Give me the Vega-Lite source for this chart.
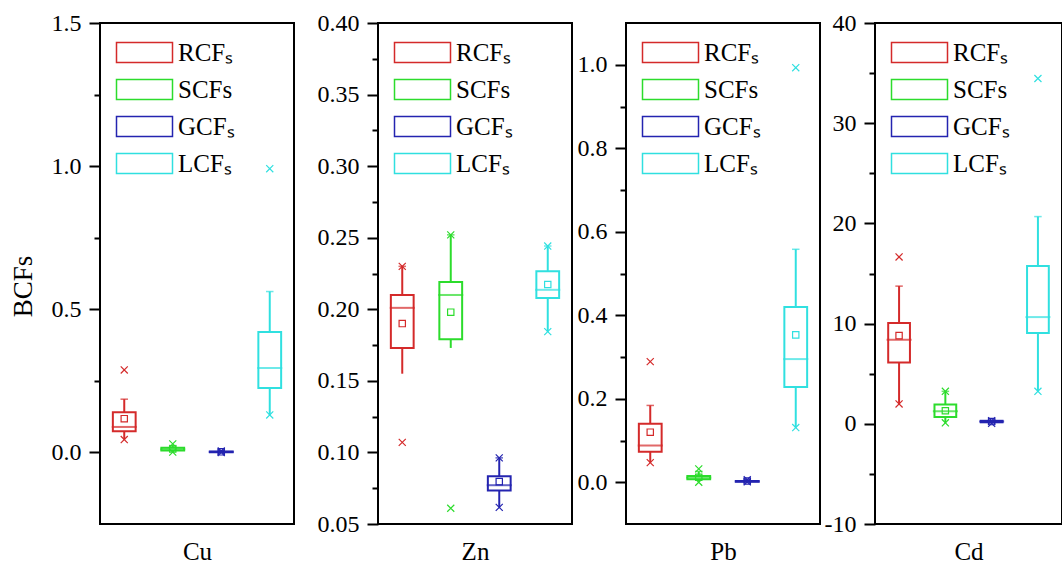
{
  "$schema": "https://vega.github.io/schema/vega-lite/v6.json",
  "padding": {"left": 8, "top": 10, "right": 0, "bottom": 0},
  "config": {
    "view": {"stroke": "#000000", "strokeWidth": 2},
    "font": "Liberation Serif",
    "axis": {"labelFont": "Liberation Serif", "titleFont": "Liberation Serif", "titleFontWeight": "normal", "labelColor": "#000000", "titleColor": "#000000", "tickColor": "#000000", "grid": false, "domain": false},
    "legend": {"labelFont": "Liberation Serif", "labelColor": "#000000"}
  },
  "datasets": {
    "stats": [
      {"metal": "Cu", "series": "RCFs", "wlo": 0.045, "q1": 0.074, "median": 0.089, "q3": 0.140, "whi": 0.186, "mean": 0.118, "min": 0.045, "max": 0.288},
      {"metal": "Cu", "series": "SCFs", "wlo": 0.003, "q1": 0.007, "median": 0.011, "q3": 0.016, "whi": 0.024, "mean": 0.012, "min": 0.001, "max": 0.030},
      {"metal": "Cu", "series": "GCFs", "wlo": 0.0, "q1": 0.001, "median": 0.002, "q3": 0.003, "whi": 0.005, "mean": 0.002, "min": 0.0, "max": 0.005},
      {"metal": "Cu", "series": "LCFs", "wlo": 0.131, "q1": 0.225, "median": 0.295, "q3": 0.421, "whi": 0.562, "mean": null, "min": 0.131, "max": 0.991},
      {"metal": "Zn", "series": "RCFs", "wlo": 0.155, "q1": 0.173, "median": 0.201, "q3": 0.210, "whi": 0.230, "mean": 0.190, "min": 0.107, "max": 0.230},
      {"metal": "Zn", "series": "SCFs", "wlo": 0.173, "q1": 0.179, "median": 0.210, "q3": 0.219, "whi": 0.252, "mean": 0.198, "min": 0.061, "max": 0.252},
      {"metal": "Zn", "series": "GCFs", "wlo": 0.0616, "q1": 0.0734, "median": 0.0771, "q3": 0.0834, "whi": 0.0962, "mean": 0.0796, "min": 0.0616, "max": 0.0962},
      {"metal": "Zn", "series": "LCFs", "wlo": 0.1844, "q1": 0.2078, "median": 0.2136, "q3": 0.2266, "whi": 0.2442, "mean": 0.2173, "min": 0.1844, "max": 0.2442},
      {"metal": "Pb", "series": "RCFs", "wlo": 0.047, "q1": 0.073, "median": 0.088, "q3": 0.140, "whi": 0.184, "mean": 0.120, "min": 0.047, "max": 0.289},
      {"metal": "Pb", "series": "SCFs", "wlo": 0.002, "q1": 0.007, "median": 0.011, "q3": 0.015, "whi": 0.026, "mean": 0.012, "min": 0.0, "max": 0.032},
      {"metal": "Pb", "series": "GCFs", "wlo": 0.0, "q1": 0.001, "median": 0.002, "q3": 0.003, "whi": 0.006, "mean": 0.003, "min": 0.001, "max": 0.006},
      {"metal": "Pb", "series": "LCFs", "wlo": 0.131, "q1": 0.228, "median": 0.295, "q3": 0.420, "whi": 0.558, "mean": 0.353, "min": 0.131, "max": 0.993},
      {"metal": "Cd", "series": "RCFs", "wlo": 1.98, "q1": 6.12, "median": 8.38, "q3": 10.07, "whi": 13.74, "mean": 8.8, "min": 1.98, "max": 16.65},
      {"metal": "Cd", "series": "SCFs", "wlo": 0.1, "q1": 0.67, "median": 1.25, "q3": 1.93, "whi": 3.24, "mean": 1.3, "min": 0.1, "max": 3.24},
      {"metal": "Cd", "series": "GCFs", "wlo": 0.0, "q1": 0.15, "median": 0.22, "q3": 0.30, "whi": 0.35, "mean": 0.22, "min": 0.05, "max": 0.3},
      {"metal": "Cd", "series": "LCFs", "wlo": 3.24, "q1": 9.06, "median": 10.65, "q3": 15.76, "whi": 20.68, "mean": null, "min": 3.24, "max": 34.46}
    ]
  },
  "resolve": {"scale": {"color": "independent", "y": "independent"}, "legend": {"color": "independent"}},
  "spacing": 21,
  "hconcat": [
    {
      "data": {"name": "stats"},
      "width": 194, "height": 501,
      "transform": [{"filter": "datum.metal === 'Cu'"}],
      "encoding": {
        "x": {"field": "series", "type": "nominal", "sort": ["RCFs", "SCFs", "GCFs", "LCFs"], "scale": {"paddingInner": 0, "paddingOuter": 0}, "axis": {"title": "Cu", "labels": false, "ticks": false, "domain": false, "titleFontSize": 25, "titlePadding": 15}},
        "color": {"field": "series", "type": "nominal", "scale": {"domain": ["RCFs", "SCFs", "GCFs", "LCFs"], "range": ["#d42a2a", "#2cdc2c", "#2424b0", "#30e0e0"]},
          "legend": {"title": null, "orient": "top-left", "offset": 17, "padding": 0, "symbolType": "M-1.3,-1H4.3V1H-1.3Z", "symbolSize": 400, "symbolStrokeWidth": 1.5, "symbolFillColor": "transparent", "labelFontSize": 25, "labelOffset": 36, "rowPadding": 10, "labelExpr": "datum.label == 'SCFs' ? 'SCFs' : slice(datum.label, 0, 3) + 'ₛ'"}}
      },
      "resolve": {"axis": {"y": "independent"}},
      "layer": [
        {"mark": {"type": "rule", "strokeWidth": 2}, "encoding": {"y": {"field": "wlo", "type": "quantitative", "scale": {"domain": [-0.25, 1.5], "nice": false, "zero": false}, "axis": {"values": [0, 0.5, 1.0, 1.5], "format": ".1f", "title": "BCFs", "titleFontSize": 27, "titlePadding": 14, "titleY": 263, "orient": "left", "tickSize": 11, "tickWidth": 2, "labelPadding": 8, "labelFontSize": 24}}, "y2": {"field": "q1"}}},
        {"mark": {"type": "rule", "strokeWidth": 2}, "encoding": {"y": {"field": "q3", "type": "quantitative", "scale": {"domain": [-0.25, 1.5], "nice": false, "zero": false}, "axis": {"values": [0.25, 0.75, 1.25], "labels": false, "title": null, "orient": "left", "tickSize": 6, "tickWidth": 2}}, "y2": {"field": "whi"}}},
        {"mark": {"type": "bar", "filled": false, "strokeWidth": 2, "width": {"band": 0.47}}, "encoding": {"y": {"field": "q1", "type": "quantitative", "scale": {"domain": [-0.25, 1.5], "nice": false, "zero": false}, "axis": null}, "y2": {"field": "q3"}}},
        {"mark": {"type": "tick", "filled": false, "size": 23, "thickness": 0.01, "strokeWidth": 2}, "encoding": {"y": {"field": "median", "type": "quantitative", "scale": {"domain": [-0.25, 1.5], "nice": false, "zero": false}, "axis": null}}},
        {"mark": {"type": "tick", "filled": false, "size": 6, "thickness": 0.01, "strokeWidth": 1.5}, "encoding": {"y": {"field": "whi", "type": "quantitative", "scale": {"domain": [-0.25, 1.5], "nice": false, "zero": false}, "axis": null}}},
        {"mark": {"type": "point", "shape": "square", "filled": false, "size": 40, "strokeWidth": 1.2, "opacity": 1}, "encoding": {"y": {"field": "mean", "type": "quantitative", "scale": {"domain": [-0.25, 1.5], "nice": false, "zero": false}, "axis": null}}},
        {"mark": {"type": "point", "shape": "M-1,-1L1,1M1,-1L-1,1", "filled": false, "size": 50, "strokeWidth": 1.2, "opacity": 1}, "encoding": {"y": {"field": "max", "type": "quantitative", "scale": {"domain": [-0.25, 1.5], "nice": false, "zero": false}, "axis": null}}},
        {"mark": {"type": "point", "shape": "M-1,-1L1,1M1,-1L-1,1", "filled": false, "size": 50, "strokeWidth": 1.2, "opacity": 1}, "encoding": {"y": {"field": "min", "type": "quantitative", "scale": {"domain": [-0.25, 1.5], "nice": false, "zero": false}, "axis": null}}}
      ]
    },
    {
      "resolve": {"scale": {"color": "independent", "y": "independent"}, "legend": {"color": "independent"}},
      "spacing": 3,
      "hconcat": [
        {
          "data": {"name": "stats"},
          "width": 194, "height": 501,
          "transform": [{"filter": "datum.metal === 'Zn'"}],
          "encoding": {
            "x": {"field": "series", "type": "nominal", "sort": ["RCFs", "SCFs", "GCFs", "LCFs"], "scale": {"paddingInner": 0, "paddingOuter": 0}, "axis": {"title": "Zn", "labels": false, "ticks": false, "domain": false, "titleFontSize": 25, "titlePadding": 15}},
            "color": {"field": "series", "type": "nominal", "scale": {"domain": ["RCFs", "SCFs", "GCFs", "LCFs"], "range": ["#d42a2a", "#2cdc2c", "#2424b0", "#30e0e0"]},
              "legend": {"title": null, "orient": "top-left", "offset": 17, "padding": 0, "symbolType": "M-1.3,-1H4.3V1H-1.3Z", "symbolSize": 400, "symbolStrokeWidth": 1.5, "symbolFillColor": "transparent", "labelFontSize": 25, "labelOffset": 36, "rowPadding": 10, "labelExpr": "datum.label == 'SCFs' ? 'SCFs' : slice(datum.label, 0, 3) + 'ₛ'"}}
          },
          "resolve": {"axis": {"y": "independent"}},
          "layer": [
            {"mark": {"type": "rule", "strokeWidth": 2}, "encoding": {"y": {"field": "wlo", "type": "quantitative", "scale": {"domain": [0.05, 0.40], "nice": false, "zero": false}, "axis": {"values": [0.05, 0.10, 0.15, 0.20, 0.25, 0.30, 0.35, 0.40], "format": ".2f", "title": null, "orient": "left", "tickSize": 11, "tickWidth": 2, "labelPadding": 8, "labelFontSize": 24}}, "y2": {"field": "q1"}}},
            {"mark": {"type": "rule", "strokeWidth": 2}, "encoding": {"y": {"field": "q3", "type": "quantitative", "scale": {"domain": [0.05, 0.40], "nice": false, "zero": false}, "axis": {"values": [0.075, 0.125, 0.175, 0.225, 0.275, 0.325, 0.375], "labels": false, "title": null, "orient": "left", "tickSize": 6, "tickWidth": 2}}, "y2": {"field": "whi"}}},
            {"mark": {"type": "bar", "filled": false, "strokeWidth": 2, "width": {"band": 0.47}}, "encoding": {"y": {"field": "q1", "type": "quantitative", "scale": {"domain": [0.05, 0.40], "nice": false, "zero": false}, "axis": null}, "y2": {"field": "q3"}}},
            {"mark": {"type": "tick", "filled": false, "size": 23, "thickness": 0.01, "strokeWidth": 2}, "encoding": {"y": {"field": "median", "type": "quantitative", "scale": {"domain": [0.05, 0.40], "nice": false, "zero": false}, "axis": null}}},
            {"mark": {"type": "tick", "filled": false, "size": 6, "thickness": 0.01, "strokeWidth": 1.5}, "encoding": {"y": {"field": "whi", "type": "quantitative", "scale": {"domain": [0.05, 0.40], "nice": false, "zero": false}, "axis": null}}},
            {"mark": {"type": "point", "shape": "square", "filled": false, "size": 40, "strokeWidth": 1.2, "opacity": 1}, "encoding": {"y": {"field": "mean", "type": "quantitative", "scale": {"domain": [0.05, 0.40], "nice": false, "zero": false}, "axis": null}}},
            {"mark": {"type": "point", "shape": "M-1,-1L1,1M1,-1L-1,1", "filled": false, "size": 50, "strokeWidth": 1.2, "opacity": 1}, "encoding": {"y": {"field": "max", "type": "quantitative", "scale": {"domain": [0.05, 0.40], "nice": false, "zero": false}, "axis": null}}},
            {"mark": {"type": "point", "shape": "M-1,-1L1,1M1,-1L-1,1", "filled": false, "size": 50, "strokeWidth": 1.2, "opacity": 1}, "encoding": {"y": {"field": "min", "type": "quantitative", "scale": {"domain": [0.05, 0.40], "nice": false, "zero": false}, "axis": null}}}
          ]
        },
        {
          "resolve": {"scale": {"color": "independent", "y": "independent"}, "legend": {"color": "independent"}},
          "spacing": 2,
          "hconcat": [
            {
              "data": {"name": "stats"},
              "width": 194, "height": 501,
              "transform": [{"filter": "datum.metal === 'Pb'"}],
              "encoding": {
                "x": {"field": "series", "type": "nominal", "sort": ["RCFs", "SCFs", "GCFs", "LCFs"], "scale": {"paddingInner": 0, "paddingOuter": 0}, "axis": {"title": "Pb", "labels": false, "ticks": false, "domain": false, "titleFontSize": 25, "titlePadding": 15}},
                "color": {"field": "series", "type": "nominal", "scale": {"domain": ["RCFs", "SCFs", "GCFs", "LCFs"], "range": ["#d42a2a", "#2cdc2c", "#2424b0", "#30e0e0"]},
                  "legend": {"title": null, "orient": "top-left", "offset": 17, "padding": 0, "symbolType": "M-1.3,-1H4.3V1H-1.3Z", "symbolSize": 400, "symbolStrokeWidth": 1.5, "symbolFillColor": "transparent", "labelFontSize": 25, "labelOffset": 36, "rowPadding": 10, "labelExpr": "datum.label == 'SCFs' ? 'SCFs' : slice(datum.label, 0, 3) + 'ₛ'"}}
              },
              "resolve": {"axis": {"y": "independent"}},
              "layer": [
                {"mark": {"type": "rule", "strokeWidth": 2}, "encoding": {"y": {"field": "wlo", "type": "quantitative", "scale": {"domain": [-0.1, 1.1], "nice": false, "zero": false}, "axis": {"values": [0, 0.2, 0.4, 0.6, 0.8, 1.0], "format": ".1f", "title": null, "orient": "left", "tickSize": 11, "tickWidth": 2, "labelPadding": 8, "labelFontSize": 24}}, "y2": {"field": "q1"}}},
                {"mark": {"type": "rule", "strokeWidth": 2}, "encoding": {"y": {"field": "q3", "type": "quantitative", "scale": {"domain": [-0.1, 1.1], "nice": false, "zero": false}, "axis": {"values": [0.1, 0.3, 0.5, 0.7, 0.9], "labels": false, "title": null, "orient": "left", "tickSize": 6, "tickWidth": 2}}, "y2": {"field": "whi"}}},
                {"mark": {"type": "bar", "filled": false, "strokeWidth": 2, "width": {"band": 0.47}}, "encoding": {"y": {"field": "q1", "type": "quantitative", "scale": {"domain": [-0.1, 1.1], "nice": false, "zero": false}, "axis": null}, "y2": {"field": "q3"}}},
                {"mark": {"type": "tick", "filled": false, "size": 23, "thickness": 0.01, "strokeWidth": 2}, "encoding": {"y": {"field": "median", "type": "quantitative", "scale": {"domain": [-0.1, 1.1], "nice": false, "zero": false}, "axis": null}}},
                {"mark": {"type": "tick", "filled": false, "size": 6, "thickness": 0.01, "strokeWidth": 1.5}, "encoding": {"y": {"field": "whi", "type": "quantitative", "scale": {"domain": [-0.1, 1.1], "nice": false, "zero": false}, "axis": null}}},
                {"mark": {"type": "point", "shape": "square", "filled": false, "size": 40, "strokeWidth": 1.2, "opacity": 1}, "encoding": {"y": {"field": "mean", "type": "quantitative", "scale": {"domain": [-0.1, 1.1], "nice": false, "zero": false}, "axis": null}}},
                {"mark": {"type": "point", "shape": "M-1,-1L1,1M1,-1L-1,1", "filled": false, "size": 50, "strokeWidth": 1.2, "opacity": 1}, "encoding": {"y": {"field": "max", "type": "quantitative", "scale": {"domain": [-0.1, 1.1], "nice": false, "zero": false}, "axis": null}}},
                {"mark": {"type": "point", "shape": "M-1,-1L1,1M1,-1L-1,1", "filled": false, "size": 50, "strokeWidth": 1.2, "opacity": 1}, "encoding": {"y": {"field": "min", "type": "quantitative", "scale": {"domain": [-0.1, 1.1], "nice": false, "zero": false}, "axis": null}}}
              ]
            },
            {
              "data": {"name": "stats"},
              "width": 187, "height": 501,
              "transform": [{"filter": "datum.metal === 'Cd'"}],
              "encoding": {
                "x": {"field": "series", "type": "nominal", "sort": ["RCFs", "SCFs", "GCFs", "LCFs"], "scale": {"paddingInner": 0, "paddingOuter": 0.02}, "axis": {"title": "Cd", "labels": false, "ticks": false, "domain": false, "titleFontSize": 25, "titlePadding": 15}},
                "color": {"field": "series", "type": "nominal", "scale": {"domain": ["RCFs", "SCFs", "GCFs", "LCFs"], "range": ["#d42a2a", "#2cdc2c", "#2424b0", "#30e0e0"]},
                  "legend": {"title": null, "orient": "top-left", "offset": 17, "padding": 0, "symbolType": "M-1.3,-1H4.3V1H-1.3Z", "symbolSize": 400, "symbolStrokeWidth": 1.5, "symbolFillColor": "transparent", "labelFontSize": 25, "labelOffset": 36, "rowPadding": 10, "labelExpr": "datum.label == 'SCFs' ? 'SCFs' : slice(datum.label, 0, 3) + 'ₛ'"}}
              },
              "resolve": {"axis": {"y": "independent"}},
              "layer": [
                {"mark": {"type": "rule", "strokeWidth": 2}, "encoding": {"y": {"field": "wlo", "type": "quantitative", "scale": {"domain": [-10, 40], "nice": false, "zero": false}, "axis": {"values": [-10, 0, 10, 20, 30, 40], "format": "d", "labelExpr": "replace(datum.label, '−', '-')", "title": null, "orient": "left", "tickSize": 11, "tickWidth": 2, "labelPadding": 8, "labelFontSize": 24}}, "y2": {"field": "q1"}}},
                {"mark": {"type": "rule", "strokeWidth": 2}, "encoding": {"y": {"field": "q3", "type": "quantitative", "scale": {"domain": [-10, 40], "nice": false, "zero": false}, "axis": {"values": [-5, 5, 15, 25, 35], "labels": false, "title": null, "orient": "left", "tickSize": 6, "tickWidth": 2}}, "y2": {"field": "whi"}}},
                {"mark": {"type": "bar", "filled": false, "strokeWidth": 2, "width": {"band": 0.47}}, "encoding": {"y": {"field": "q1", "type": "quantitative", "scale": {"domain": [-10, 40], "nice": false, "zero": false}, "axis": null}, "y2": {"field": "q3"}}},
                {"mark": {"type": "tick", "filled": false, "size": 23, "thickness": 0.01, "strokeWidth": 2}, "encoding": {"y": {"field": "median", "type": "quantitative", "scale": {"domain": [-10, 40], "nice": false, "zero": false}, "axis": null}}},
                {"mark": {"type": "tick", "filled": false, "size": 6, "thickness": 0.01, "strokeWidth": 1.5}, "encoding": {"y": {"field": "whi", "type": "quantitative", "scale": {"domain": [-10, 40], "nice": false, "zero": false}, "axis": null}}},
                {"mark": {"type": "point", "shape": "square", "filled": false, "size": 40, "strokeWidth": 1.2, "opacity": 1}, "encoding": {"y": {"field": "mean", "type": "quantitative", "scale": {"domain": [-10, 40], "nice": false, "zero": false}, "axis": null}}},
                {"mark": {"type": "point", "shape": "M-1,-1L1,1M1,-1L-1,1", "filled": false, "size": 50, "strokeWidth": 1.2, "opacity": 1}, "encoding": {"y": {"field": "max", "type": "quantitative", "scale": {"domain": [-10, 40], "nice": false, "zero": false}, "axis": null}}},
                {"mark": {"type": "point", "shape": "M-1,-1L1,1M1,-1L-1,1", "filled": false, "size": 50, "strokeWidth": 1.2, "opacity": 1}, "encoding": {"y": {"field": "min", "type": "quantitative", "scale": {"domain": [-10, 40], "nice": false, "zero": false}, "axis": null}}}
              ]
            }
          ]
        }
      ]
    }
  ]
}
